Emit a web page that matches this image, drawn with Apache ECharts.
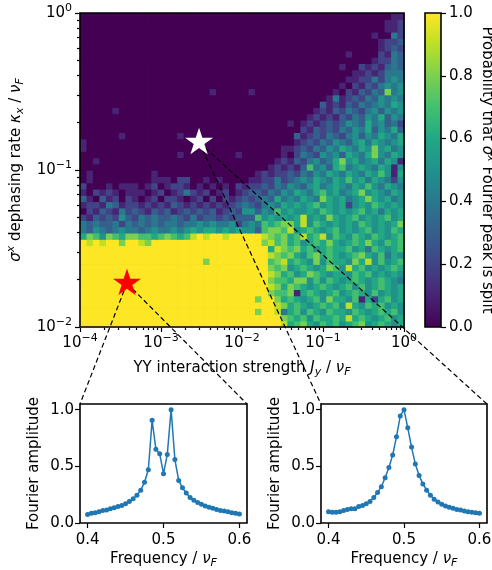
<!DOCTYPE html>
<html>
<head>
<meta charset="utf-8">
<script src="https://cdn.jsdelivr.net/npm/echarts@6/dist/echarts.min.js"></script>
<style>
html, body { margin: 0; padding: 0; background: #fff; }
#main { width: 492px; height: 570px; }
</style>
</head>
<body>
<div id="main"></div>
<script>
// probability map, one string per kappa row, top row (kappa = 1) first
// one char per J column: 0-9 = tenths, A = 1.0
var splitRows = [
  '0000000000 0000000000 0000000000 0000000000 0000000011',
  '0000000000 0000000000 0000000000 0000000000 0000000112',
  '0000000000 0000000000 0000000000 0000000000 0000000112',
  '0000000000 0000000000 0000000000 0000000000 0000010042',
  '0000000000 0000000000 0000000000 0000000000 0000001223',
  '0000000000 0000000000 0000000000 0000000000 0000001232',
  '0000000000 0000000000 0000000000 0000000000 0100002143',
  '0000000000 0000000000 0000000000 0000000000 0000012243',
  '0000000000 0000000000 0000000000 0000000000 1002121343',
  '0000000000 0000000000 0000000000 0000000000 0011212444',
  '0000000000 0000000000 0000000000 0000000000 0112242454',
  '0000000000 0000000000 0000000000 0000000000 1021324545',
  '0000000000 0000000000 1000001000 0000000001 0213243845',
  '0000000000 0000000000 0000000000 0000000014 1232435454',
  '0000000000 0000000000 0000000000 0000000312 1324345465',
  '0000010000 0000000000 0000000000 0000001213 2432453545',
  '0000000000 0000000000 0000000000 0000012121 3243546354',
  '0000000000 0000000000 0000000000 0010121232 3543645342',
  '0000000000 0000000000 0000000000 0000213232 4354635463',
  '0000001000 0000010000 0000000000 0003123243 2453546546',
  '1000000000 0000000000 0000000000 0001232435 4356465456',
  '1000000000 0000000000 0000000000 0112324354 6546585645',
  '0000000000 0000010000 0000100000 0102432545 3654685465',
  '0010000000 0000000000 0000000000 1213245346 8564564651',
  '0000000000 0000000000 0000000001 2121374536 7456546515',
  '0100000000 0100000000 0000000121 2232435465 4654657516',
  '0100000000 0111022001 0100001122 4234546546 5756465425',
  '2000101110 1201221010 1010212232 4354356456 5465754654',
  '1021210111 0120124212 0120123324 3546546756 4568565465',
  '3103120210 1202210120 2021232343 6454654865 6456865645',
  '1221431221 2121321212 1212343245 4656567565 6256576565',
  '0213214232 1323123232 3123255354 7565565765 6567564656',
  '2132325324 3433432423 3232333756 5656956586 5675656756',
  '4343342434 3434434454 5445245476 7886957656 5657656568',
  '4354345443 4544545656 6565655378 8795676567 5656756576',
  '6875876887 76787679A9 AA9AAAAA98 7867967957 6576576567',
  'A9A9AA8AA9 8AAAAAAAAA AAAAAAAA89 7867567686 5676865767',
  'AAAAAAAAAA AAAAAAAAAA AAAAAAAAA6 9878675676 6756476567',
  'AAAAAAAAAA AAAAAAAAAA AAAAAAAAA9 8786578676 5678657465',
  'AAAAAAAAAA AAAAAAAAA8 AAAAAAAAA7 8967658576 6586957567',
  'AAAAAAAAAA AAAAAAAAAA AAAAAAAAA8 7856765687 5967565676',
  'AAAAAAAAAA AAAAAAAAAA AAAAAAAAA9 8675687656 6576756565',
  'AAAAAAAAAA AAAAAAAAAA AAAAAAAAA8 7768857576 5676567654',
  'AAAAAAAAAA AAAAAAAAAA AAAAAAAAA9 8687656765 6757567656',
  'AAAAAAAAAA AAAAAAAAAA AAAAAAAAA8 7781676567 5676575656',
  'AAAAAAAAAA AAAAAAAAAA AAAAAAA8AA 8676567586 6571626756',
  'AAAAAAAAAA AAAAAAAAAA AAAAAAAAAA 9867656767 5965767565',
  'AAAAAAAAAA AAAAAAAAAA AAAAAAA8AA 9467576576 6576567675',
  'AAAAAAAAAA AAAAAAAAAA AAAAAAAAAA A876757667 6967656756',
  'AAAAAAAAAA AAAAAAAAAA AAAAAAAAAA A967865767 5678567656'
];

// the two marked points (J_y, kappa_x)
var starJ = [3.8e-4, 2.95e-3];
var starKappa = [0.019, 0.15];
var starColor = ['#ff0000', '#ffffff'];

// Fourier spectra shown in the insets
var freq = [0.400, 0.405, 0.410, 0.415, 0.420, 0.425, 0.430, 0.435, 0.440, 0.445,
  0.450, 0.455, 0.460, 0.465, 0.470, 0.475, 0.480, 0.485, 0.490, 0.495,
  0.500, 0.505, 0.510, 0.515, 0.520, 0.525, 0.530, 0.535, 0.540, 0.545,
  0.550, 0.555, 0.560, 0.565, 0.570, 0.575, 0.580, 0.585, 0.590, 0.595, 0.600];
var ampSplit = [0.075, 0.085, 0.09, 0.10, 0.11, 0.115, 0.125, 0.135, 0.145, 0.155,
  0.17, 0.19, 0.215, 0.245, 0.29, 0.36, 0.47, 0.906, 0.65, 0.61,
  0.435, 0.605, 1.0, 0.56, 0.376, 0.31, 0.265, 0.225, 0.20, 0.18,
  0.165, 0.15, 0.14, 0.13, 0.12, 0.11, 0.105, 0.10, 0.09, 0.085, 0.08];
var ampSingle = [0.10, 0.095, 0.095, 0.10, 0.11, 0.12, 0.125, 0.125, 0.145, 0.155,
  0.17, 0.19, 0.225, 0.27, 0.32, 0.40, 0.49, 0.60, 0.76, 0.944,
  1.0, 0.84, 0.67, 0.52, 0.42, 0.345, 0.29, 0.245, 0.21, 0.185,
  0.165, 0.15, 0.14, 0.13, 0.12, 0.115, 0.105, 0.10, 0.095, 0.09, 0.085];

// tick labels
var logTicksX = [-4, -3, -2, -1, 0];
var logTicksY = [-2, -1, 0];
var insetTicksX = [0.4, 0.5, 0.6];
var insetTicksY = [0, 0.5, 1.0];

var viridis = ['#440154', '#482475', '#414487', '#355f8d', '#2a788e', '#21918c',
  '#22a884', '#44bf70', '#7ad151', '#bddf26', '#fde725'];

var FONT = 'DejaVu Sans';
var FS = 15;
var chart = echarts.init(document.getElementById('main'));

var heatData = [];
var cats = [];
for (var r = 0; r < 50; r++) {
  cats.push(r);
  var row = splitRows[49 - r].replace(/ /g, '');
  for (var c = 0; c < 50; c++) {
    var ch = row.charAt(c);
    heatData.push([c, r, ch === 'A' ? 1 : Number(ch) / 10]);
  }
}

function minorTicks (lo, hi) {
  var t = [];
  for (var d = lo; d < hi; d++) {
    for (var k = 2; k < 10; k++) t.push(d + Math.log10(k));
  }
  return t;
}
var minorX = minorTicks(-4, 0);
var minorY = minorTicks(-2, 0);

function powLabel (v) {
  var e = Math.round(v);
  return '10{sup|' + (e < 0 ? '\u2212' + (-e) : e) + '}';
}

var rich = {
  sup: { fontSize: 11, verticalAlign: 'top', lineHeight: 11, color: '#000' },
  it: { fontStyle: 'italic', fontSize: FS, lineHeight: 20, color: '#000' },
  isub: { fontStyle: 'italic', fontSize: 11, verticalAlign: 'bottom', lineHeight: 11, color: '#000' },
  isup: { fontStyle: 'italic', fontSize: 11, verticalAlign: 'top', lineHeight: 11, color: '#000' }
};
var nameStyle = { fontSize: FS, color: '#000', lineHeight: 20, rich: rich };
var tickLine = { color: '#000', width: 1.2 };

function plainAxis (grid, min, max, pos) {
  return {
    type: 'value', gridIndex: grid, min: min, max: max, position: pos,
    axisLine: { show: false, onZero: false },
    splitLine: { show: false }
  };
}

var xMajor = plainAxis(1, -4, 0, 'bottom');
xMajor.axisTick = { customValues: logTicksX, length: 5, lineStyle: tickLine };
xMajor.axisLabel = { customValues: logTicksX, formatter: powLabel, margin: 6, fontSize: FS, color: '#000', lineHeight: 20, rich: rich };
xMajor.name = 'YY interaction strength {it|J}{isub|y} / {it|\u03bd}{isub|F}';
xMajor.nameLocation = 'middle';
xMajor.nameGap = 22;
xMajor.nameTextStyle = nameStyle;

var xMinor = plainAxis(1, -4, 0, 'bottom');
xMinor.axisTick = { customValues: minorX, length: 3, lineStyle: tickLine };
xMinor.axisLabel = { show: false, customValues: minorX };

var yMajor = plainAxis(1, -2, 0, 'left');
yMajor.axisTick = { customValues: logTicksY, length: 5, lineStyle: tickLine };
yMajor.axisLabel = { customValues: logTicksY, formatter: powLabel, margin: 8, fontSize: FS, color: '#000', lineHeight: 20, rich: rich };
yMajor.name = '{it|\u03c3}{isup|x} dephasing rate {it|\u03ba}{isub|x} / {it|\u03bd}{isub|F}';
yMajor.nameLocation = 'middle';
yMajor.nameGap = 39;
yMajor.nameTextStyle = nameStyle;

var yMinor = plainAxis(1, -2, 0, 'left');
yMinor.axisTick = { customValues: minorY, length: 3, lineStyle: tickLine };
yMinor.axisLabel = { show: false, customValues: minorY };

var cbX = plainAxis(2, 0, 1, 'bottom');
cbX.show = false;
var cbY = plainAxis(2, 0, 1, 'right');
cbY.interval = 0.2;
cbY.axisTick = { length: 5, lineStyle: tickLine };
cbY.axisLabel = { margin: 8, fontSize: FS, color: '#000', formatter: function (v) { return v.toFixed(1); } };
cbY.name = 'Probability that {it|\u03c3}{isup|x} Fourier peak is split';
cbY.nameLocation = 'middle';
cbY.nameRotate = -90;
cbY.nameGap = 24;
cbY.nameTextStyle = nameStyle;

function insetX (grid) {
  var a = plainAxis(grid, 0.39, 0.61, 'bottom');
  a.axisTick = { customValues: insetTicksX, length: 5, lineStyle: tickLine };
  a.axisLabel = { customValues: insetTicksX, margin: 10, fontSize: FS, color: '#000', formatter: function (v) { return v.toFixed(1); } };
  a.name = 'Frequency / {it|\u03bd}{isub|F}';
  a.nameLocation = 'middle';
  a.nameGap = 25;
  a.nameTextStyle = nameStyle;
  return a;
}
function insetY (grid) {
  var a = plainAxis(grid, 0, 1.05, 'left');
  a.axisTick = { customValues: insetTicksY, length: 5, lineStyle: tickLine };
  a.axisLabel = { customValues: insetTicksY, margin: 6, fontSize: FS, color: '#000', formatter: function (v) { return v.toFixed(1); } };
  a.name = 'Fourier amplitude';
  a.nameLocation = 'middle';
  a.nameGap = 36;
  a.nameTextStyle = nameStyle;
  return a;
}

function boxGrid (left, top, width, height) {
  return {
    left: left, top: top, width: width, height: height, show: true,
    backgroundColor: 'transparent', borderColor: '#000', borderWidth: 1.6,
    z: 10, containLabel: false, outerBoundsMode: 'none'
  };
}

function pairs (xs, ys) {
  return xs.map(function (x, i) { return [x, ys[i]]; });
}

var starPath = 'path://M0,-100L22.45,-30.9L95.1,-30.9L36.33,11.8L58.78,80.9L0,38.2L-58.78,80.9L-36.33,11.8L-95.1,-30.9L-22.45,-30.9Z';

var option = {
  animation: false,
  textStyle: { fontFamily: FONT, color: '#000' },
  grid: [
    {
      left: 80, top: 13, width: 324, height: 314, show: true, z: 0,
      backgroundColor: viridis[0], borderWidth: 0, containLabel: false, outerBoundsMode: 'none'
    },
    boxGrid(80, 13, 324, 314),
    boxGrid(425, 13, 16, 314),
    boxGrid(80, 404, 167, 119),
    boxGrid(321, 404, 166, 119)
  ],
  xAxis: [
    { type: 'category', gridIndex: 0, data: cats, show: false },
    xMajor, xMinor, cbX, insetX(3), insetX(4)
  ],
  yAxis: [
    { type: 'category', gridIndex: 0, data: cats, show: false },
    yMajor, yMinor, cbY, insetY(3), insetY(4)
  ],
  visualMap: {
    show: false, seriesIndex: 0, dimension: 2, min: 0, max: 1,
    inRange: { color: viridis }
  },
  series: [
    {
      // heat map cells, drawn a touch oversized so no seams show between them
      type: 'custom', xAxisIndex: 0, yAxisIndex: 0, data: heatData, silent: true,
      renderItem: function (params, api) {
        var p = api.coord([api.value(0), api.value(1)]);
        var size = api.size([1, 1]);
        return {
          type: 'rect',
          shape: { x: p[0] - size[0] / 2, y: p[1] - size[1] / 2, width: size[0] + 0.7, height: size[1] + 0.7 },
          style: { fill: api.visual('color') }
        };
      }
    },
    {
      type: 'custom', xAxisIndex: 3, yAxisIndex: 3, data: [[0, 0]], silent: true,
      renderItem: function (params, api) {
        var p0 = api.coord([0, 0]);
        var p1 = api.coord([1, 1]);
        return {
          type: 'rect',
          shape: { x: p0[0], y: p1[1], width: p1[0] - p0[0], height: p0[1] - p1[1] },
          style: {
            fill: new echarts.graphic.LinearGradient(0, 1, 0, 0, viridis.map(function (col, i) {
              return { offset: i / 10, color: col };
            }))
          }
        };
      }
    },
    {
      type: 'line', xAxisIndex: 4, yAxisIndex: 4, data: pairs(freq, ampSplit),
      symbol: 'circle', symbolSize: 5, itemStyle: { color: '#1f77b4' },
      lineStyle: { color: '#1f77b4', width: 1.5 }
    },
    {
      type: 'line', xAxisIndex: 5, yAxisIndex: 5, data: pairs(freq, ampSingle),
      symbol: 'circle', symbolSize: 5, itemStyle: { color: '#1f77b4' },
      lineStyle: { color: '#1f77b4', width: 1.5 }
    },
    {
      type: 'scatter', xAxisIndex: 1, yAxisIndex: 1, z: 12,
      symbol: starPath, symbolKeepAspect: true, symbolSize: 28, symbolOffset: [0, -1.4],
      data: starJ.map(function (j, i) {
        return { value: [Math.log10(j), Math.log10(starKappa[i])], itemStyle: { color: starColor[i], opacity: 1 } };
      })
    }
  ]
};
chart.setOption(option);

// dashed zoom lines from each star to the top corners of its inset
var lines = [];
[[0, 4], [1, 5]].forEach(function (p) {
  var s = chart.convertToPixel({ xAxisIndex: 1, yAxisIndex: 1 },
    [Math.log10(starJ[p[0]]), Math.log10(starKappa[p[0]])]);
  [0.39, 0.61].forEach(function (fx) {
    var e = chart.convertToPixel({ xAxisIndex: p[1], yAxisIndex: p[1] }, [fx, 1.05]);
    lines.push({
      type: 'line', z: 8, silent: true,
      shape: { x1: s[0], y1: s[1], x2: e[0], y2: e[1] },
      style: { stroke: '#000', lineWidth: 1.2, lineDash: [5, 3] }
    });
  });
});
chart.setOption({ graphic: { elements: lines } });
</script>
</body>
</html>
